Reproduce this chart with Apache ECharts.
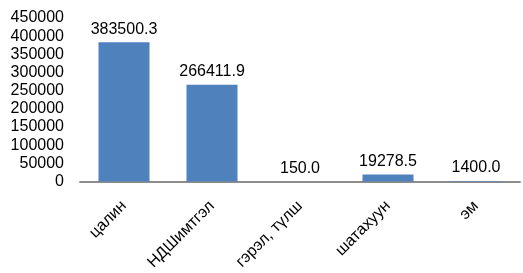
<!DOCTYPE html>
<html>
<head>
<meta charset="utf-8">
<script src="https://cdn.jsdelivr.net/npm/echarts@6/dist/echarts.min.js"></script>
<style>
  html, body { margin: 0; padding: 0; background: #fff; }
  #main { width: 523px; height: 273px; }
</style>
</head>
<body>
<div id="main"></div>
<script>
// data
const categories = ['цалин', 'НДШимтгэл', 'гэрэл, түлш', 'шатахуун', 'эм'];
const values = [383500.3, 266411.9, 150.0, 19278.5, 1400.0];

const chart = echarts.init(document.getElementById('main'));
chart.setOption({
  animation: false,
  textStyle: { fontFamily: 'Liberation Sans, Arial, sans-serif' },
  grid: { left: 80, right: 3, top: 18, bottom: 91, containLabel: false },
  xAxis: {
    type: 'category',
    data: categories,
    axisLine: { lineStyle: { color: '#8c8c8c', width: 2 } },
    axisTick: { show: false },
    axisLabel: { rotate: 45, color: '#000', fontSize: 16, interval: 0, margin: 22 }
  },
  yAxis: {
    type: 'value',
    min: 0,
    max: 450000,
    interval: 50000,
    splitLine: { show: false },
    axisLine: { show: false },
    axisTick: { show: false },
    axisLabel: { color: '#000', fontSize: 16, margin: 16, formatter: v => String(v) }
  },
  series: [
    {
      type: 'bar',
      data: values,
      barWidth: 51,
      itemStyle: { color: '#4f81bd' },
      label: {
        show: true,
        position: 'top',
        color: '#000',
        fontSize: 16,
        distance: 5,
        formatter: p => p.value.toFixed(1)
      }
    }
  ]
});
</script>
</body>
</html>
